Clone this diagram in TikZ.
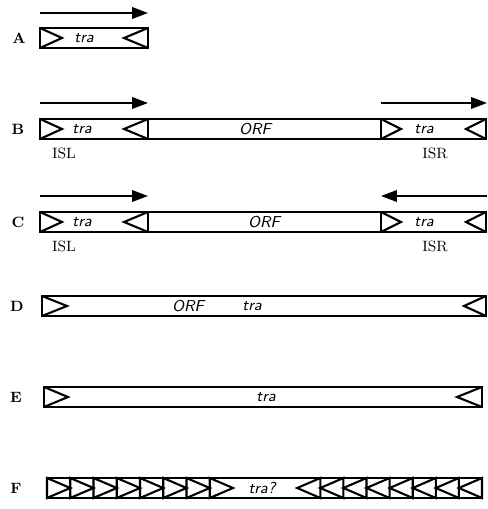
\documentclass[tikz,border=0pt]{standalone}
\usepackage{tikz}
\usetikzlibrary{arrows.meta}

\begin{document}
\begin{tikzpicture}[x=0.02cm, y=-0.02cm, line join=miter,
    box/.style={line width=1.2pt},
    arr/.style={line width=1.1pt},
    >={Triangle[length=9pt,width=6.5pt]},
    gene/.style={font=\fontsize{9}{10}\selectfont\sffamily\itshape, inner sep=0pt},
    lab/.style={font=\fontsize{8.5}{10}\selectfont\bfseries, inner sep=0pt},
    islab/.style={font=\fontsize{8.5}{10}\selectfont, inner sep=0pt}]
    \useasboundingbox (0,0) rectangle (487,509);

    % A: one IS element
    \coordinate (a1) at (40,13);
    \coordinate (a2) at (148,13);
    \draw[arr,->] (a1) -- (a2);
    \draw[box] (40,28) rectangle (148,48);
    \draw[box] (40,28) -- (62,38) -- (40,48);
    \draw[box] (148,28) -- (124,38) -- (148,48);
    \node[gene] (traA) at (84,38) {tra};
    \node[lab] (A) at (19,38) {A};

    % B and C: composite transposon, ORF between two IS
    \foreach \r/\y/\tip in {B/129/->, C/222/<-}
    {
        \coordinate (\r l1) at (40,\y-26);
        \coordinate (\r l2) at (148,\y-26);
        \coordinate (\r r1) at (381,\y-26);
        \coordinate (\r r2) at (487,\y-26);
        \draw[arr,->] (\r l1) -- (\r l2);
        \draw[arr,\tip] (\r r1) -- (\r r2);
        \draw[box] (40,\y-10) rectangle (486,\y+10);
        \draw[box] (148,\y-10) -- (148,\y+10);
        \draw[box] (381,\y-10) -- (381,\y+10);
        \draw[box] (40,\y-10) -- (62,\y) -- (40,\y+10);
        \draw[box] (148,\y-10) -- (124,\y) -- (148,\y+10);
        \draw[box] (381,\y-10) -- (401,\y) -- (381,\y+10);
        \draw[box] (486,\y-10) -- (466,\y) -- (486,\y+10);
        \node[gene] (tra\r l) at (82,\y) {tra};
        \node[gene] (tra\r r) at (424,\y) {tra};
        \node[lab] (\r) at (18,\y) {\r};
        \node[islab] (isl\r) at (64,\y+24) {ISL};
        \node[islab] (isr\r) at (435,\y+24) {ISR};
    }
    \node[gene] (orfB) at (255,129) {ORF};
    \node[gene] (orfC) at (264,222) {ORF};

    % D
    \draw[box] (42,296) rectangle (486,316);
    \draw[box] (42,296) -- (67,306) -- (42,316);
    \draw[box] (486,296) -- (464,306) -- (486,316);
    \node[gene] (orfD) at (188,306) {ORF};
    \node[gene] (traD) at (252,306) {tra};
    \node[lab] (D) at (17,306) {D};

    % E
    \draw[box] (44,387) rectangle (482,407);
    \draw[box] (44,387) -- (68,397) -- (44,407);
    \draw[box] (482,387) -- (457,397) -- (482,407);
    \node[gene] (traE) at (266,397) {tra};
    \node[lab] (E) at (16,397) {E};

    % F: repeated ends
    \draw[box] (47,478) rectangle (482,498);
    \foreach \i in {0,...,7}
    {
        \draw[box] (47+\i*23.25,478) -- (70.25+\i*23.25,488) -- (47+\i*23.25,498) -- cycle;
        \draw[box] (482-\i*23.1,478) -- (458.9-\i*23.1,488) -- (482-\i*23.1,498) -- cycle;
    }
    \node[gene] (traF) at (262,488) {tra?};
    \node[lab] (F) at (16,488) {F};
\end{tikzpicture}
\end{document}
